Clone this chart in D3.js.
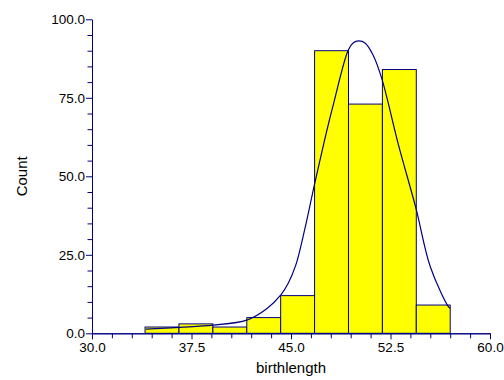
<!DOCTYPE html>
<html>
<head>
<meta charset="utf-8">
<script src="https://cdn.jsdelivr.net/npm/d3@7"></script>
<style>
  body { margin: 0; background: #fff; }
  svg text { font-family: 'Liberation Sans', Arial, sans-serif; fill: #000; }
</style>
</head>
<body>
<svg id="chart" width="504" height="380"></svg>
<script>
'use strict';

// histogram bins (birthlength) and their counts
const binEdges = [34, 36.556, 39.111, 41.667, 44.222, 46.778, 49.333, 51.889, 54.444, 57];
const counts = [2, 3, 2, 5, 12, 90, 73, 84, 9];

// fitted curve as [birthlength, count]
const curveX = [34.05, 36.6, 39.12, 41.67, 43.17, 44.25, 44.8, 45.36, 46.03, 46.76, 47.5, 48.2, 49.32, 49.7, 50.1, 50.6, 51.2, 51.84, 53.1, 54.42, 55.5, 56.86, 57.0];
const curveY = [1.3, 1.9, 2.6, 4.2, 7.8, 12.3, 16, 21.7, 33, 47.2, 61, 73, 90.2, 92.5, 93.1, 92.4, 88.5, 81.2, 60, 39.8, 21.2, 8.5, 8.0];

const xMajor = [30, 37.5, 45, 52.5, 60];
const yMajor = [0, 25, 50, 75, 100];

const navy = '#000080';
const plotLeft = 92;
const plotRight = 490;
const plotTop = 19.3;
const plotBottom = 333.3;

const svg = d3.select('#chart');

const x = d3.scaleLinear().domain([30, 60]).range([plotLeft, plotRight]);
const y = d3.scaleLinear().domain([0, 100]).range([plotBottom, plotTop]);

const xMinor = d3.range(30, 60.01, 1.5).filter((v) => xMajor.indexOf(v) < 0);
const yMinor = d3.range(0, 100.01, 5).filter((v) => yMajor.indexOf(v) < 0);

// bars
svg
  .append('g')
  .selectAll('rect')
  .data(counts)
  .join('rect')
  .attr('x', (d, i) => x(binEdges[i]))
  .attr('y', (d) => y(d))
  .attr('width', (d, i) => x(binEdges[i + 1]) - x(binEdges[i]))
  .attr('height', (d) => y(0) - y(d))
  .attr('fill', '#ffff00')
  .attr('stroke', navy)
  .attr('stroke-width', 1);

// curve
const points = curveX.map((v, i) => [v, curveY[i]]);
svg
  .append('path')
  .datum(points)
  .attr('fill', 'none')
  .attr('stroke', navy)
  .attr('stroke-width', 1.2)
  .attr(
    'd',
    d3
      .line()
      .x((d) => x(d[0]))
      .y((d) => y(d[1]))
      .curve(d3.curveCatmullRom.alpha(0.5))
  );

const styleAxis = (g) => {
  g.selectAll('path, line').attr('stroke', navy);
  g.selectAll('text').attr('font-size', '13.5px').attr('fill', '#000');
};

// minor ticks first, then major with labels
svg
  .append('g')
  .attr('transform', `translate(0,${plotBottom})`)
  .call(d3.axisBottom(x).tickValues(xMinor).tickSize(5).tickSizeOuter(0).tickFormat(''))
  .call(styleAxis);
svg
  .append('g')
  .attr('transform', `translate(0,${plotBottom})`)
  .call(d3.axisBottom(x).tickValues(xMajor).tickSize(6).tickSizeOuter(0).tickFormat(d3.format('.1f')).tickPadding(3))
  .call(styleAxis);

svg
  .append('g')
  .attr('transform', `translate(${plotLeft},0)`)
  .call(d3.axisLeft(y).tickValues(yMinor).tickSize(4.5).tickSizeOuter(0).tickFormat(''))
  .call(styleAxis);
svg
  .append('g')
  .attr('transform', `translate(${plotLeft},0)`)
  .call(d3.axisLeft(y).tickValues(yMajor).tickSize(6).tickSizeOuter(0).tickFormat(d3.format('.1f')).tickPadding(1))
  .call(styleAxis);

// axis titles
svg
  .append('text')
  .attr('x', (plotLeft + plotRight) / 2)
  .attr('y', 373)
  .attr('text-anchor', 'middle')
  .attr('font-size', '15px')
  .text('birthlength');

svg
  .append('text')
  .attr('transform', `translate(27,${(plotTop + plotBottom) / 2}) rotate(-90)`)
  .attr('text-anchor', 'middle')
  .attr('font-size', '15px')
  .text('Count');
</script>
</body>
</html>
